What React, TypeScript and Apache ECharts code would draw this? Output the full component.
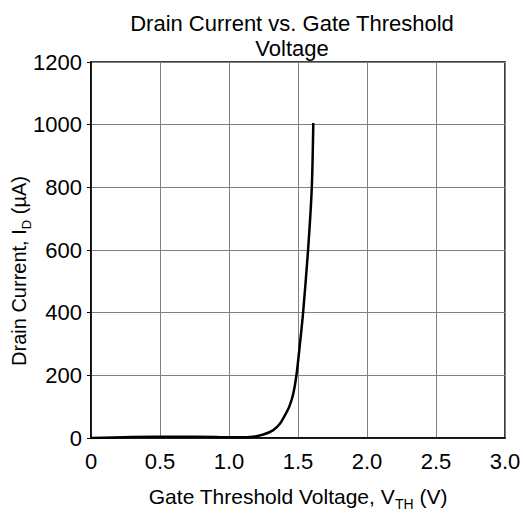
import React, { useEffect, useRef } from "react";
import * as echarts from "echarts";

const vth = [0, 0.3, 0.6, 0.9, 1.0, 1.152, 1.249, 1.321, 1.37, 1.406, 1.437, 1.466, 1.49, 1.513, 1.537, 1.573, 1.6, 1.611];
const idUA = [0, 3, 4, 3, 2, 3, 11, 25, 46, 73, 100, 142, 205, 296, 400, 600, 800, 1005];
const xTicks = ["0", "0.5", "1.0", "1.5", "2.0", "2.5", "3.0"];
const yTicks = ["0", "200", "400", "600", "800", "1000", "1200"];
const titleText = "Drain Current vs. Gate Threshold\nVoltage";

const FONT = "'Liberation Sans', Arial, Helvetica, sans-serif";

export default function App() {
  const ref = useRef<HTMLDivElement>(null);
  useEffect(() => {
    document.body.style.margin = "0";
    const chart = echarts.init(ref.current!, null, { renderer: "svg" });
    const data = vth.map((v, i) => [v, idUA[i]]);
    chart.setOption({
      animation: false,
      backgroundColor: "#fff",
      textStyle: { fontFamily: FONT, color: "#000" },
      title: {
        text: titleText,
        left: 287,
        textAlign: "center",
        top: 6,
        textStyle: { fontFamily: FONT, fontSize: 22, fontWeight: "normal", color: "#000", lineHeight: 25 },
      },
      grid: {
        left: 91,
        right: 19,
        top: 62,
        bottom: 77,
        containLabel: false,
        outerBoundsMode: "none",
        show: true,
        borderColor: "#000",
        borderWidth: 1.5,
      },
      xAxis: {
        type: "value",
        min: 0,
        max: 3,
        interval: 0.5,
        axisLine: { show: true, lineStyle: { color: "#000", width: 1.5 } },
        axisTick: { show: false },
        splitLine: { show: true, lineStyle: { color: "#808080", width: 1 } },
        axisLabel: {
          margin: 12,
          fontSize: 22,
          fontFamily: FONT,
          color: "#000",
          formatter: (v: number) => xTicks[Math.round(v / 0.5)],
        },
        name: "{a|Gate Threshold Voltage, V}{b|TH}{a| (V)}",
        nameLocation: "middle",
        nameGap: 48,
        nameMoveOverlap: false,
        nameTextStyle: {
          rich: {
            a: { fontSize: 21, fontFamily: FONT, color: "#000", padding: [0, 0, 4, 0], verticalAlign: "bottom" },
            b: { fontSize: 14, fontFamily: FONT, color: "#000", verticalAlign: "bottom" },
          },
        },
      },
      yAxis: {
        type: "value",
        min: 0,
        max: 1200,
        interval: 200,
        axisLine: { show: true, lineStyle: { color: "#000", width: 1.5 } },
        axisTick: { show: true, inside: false, length: 4, lineStyle: { color: "#000", width: 1 } },
        splitLine: { show: true, lineStyle: { color: "#808080", width: 1 } },
        axisLabel: {
          margin: 9,
          fontSize: 22,
          fontFamily: FONT,
          color: "#000",
          formatter: (v: number) => yTicks[Math.round(v / 200)],
        },
        name: "{a|Drain Current, I}{b|D}{a| (µA)}",
        nameLocation: "middle",
        nameRotate: 90,
        nameGap: 58,
        nameMoveOverlap: false,
        nameTextStyle: {
          padding: [0, 42, 0, 0],
          rich: {
            a: { fontSize: 20, fontFamily: FONT, color: "#000", padding: [0, 0, 4, 0], verticalAlign: "bottom" },
            b: { fontSize: 13, fontFamily: FONT, color: "#000", verticalAlign: "bottom" },
          },
        },
      },
      series: [
        {
          type: "line",
          data,
          smooth: 0.25,
          showSymbol: false,
          symbol: "none",
          lineStyle: { color: "#000", width: 2.5 },
        },
      ],
    });
    return () => chart.dispose();
  }, []);
  return <div ref={ref} style={{ width: 524, height: 515 }} />;
}
